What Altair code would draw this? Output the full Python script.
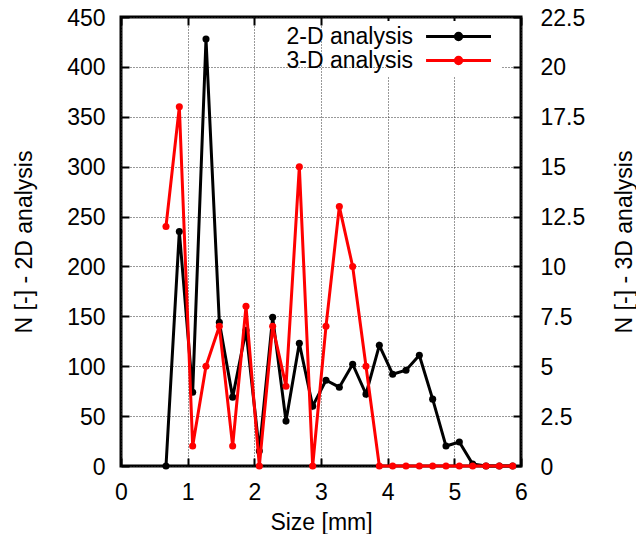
import altair as alt
import pandas as pd

# bin centres [mm]
sizes = [0.675, 0.875, 1.075, 1.275, 1.475, 1.675, 1.875, 2.075, 2.275, 2.475,
         2.675, 2.875, 3.075, 3.275, 3.475, 3.675, 3.875, 4.075, 4.275, 4.475,
         4.675, 4.875, 5.075, 5.275, 5.475, 5.675, 5.875]
# counts, 2-D analysis (left axis)
n2d = [0, 235, 74, 428, 144, 69, 136, 15, 149, 45, 123, 60, 86, 79, 102, 72,
       121, 92, 96, 111, 67, 20, 24, 2, 0, 0, 0]
# counts, 3-D analysis (right axis)
n3d = [12, 18, 1, 5, 7, 1, 8, 0, 7, 4, 15, 0, 7, 13, 10, 5, 0, 0, 0, 0, 0, 0,
       0, 0, 0, 0, 0]

series = ["2-D analysis", "3-D analysis"]
colors = ["#000000", "#ff0000"]
x_ticks = [0, 1, 2, 3, 4, 5, 6]
left_ticks = [0, 50, 100, 150, 200, 250, 300, 350, 400, 450]
right_ticks = [0, 2.5, 5, 7.5, 10, 12.5, 15, 17.5, 20, 22.5]

df2 = pd.DataFrame({"size": sizes, "n": n2d, "series": series[0]})
df3 = pd.DataFrame({"size": sizes, "n": n3d, "series": series[1]})

FONT = "Liberation Sans"
FS = 23

# legend key: a line sample with a dot, drawn to the right of the label
LEGEND_PATH = ("M3.07,0H11.19"
               "M6.73,0A0.4,0.4,0,1,1,7.53,0A0.4,0.4,0,1,1,6.73,0Z")

legend = alt.Legend(
    title=None, orient="none", legendX=265, legendY=4,
    symbolType=LEGEND_PATH, symbolSize=256, symbolStrokeWidth=3,
    labelAlign="right", labelOffset=0, labelFontSize=FS, labelFont=FONT,
    labelColor="black", rowPadding=0, padding=4, labelLimit=300,
    fillColor="white",
)
color = alt.Color("series:N", scale=alt.Scale(domain=series, range=colors),
                  legend=legend)

grid_kw = dict(gridDash=[1, 2], gridColor="#333333", gridWidth=1)
tick_kw = dict(domain=False, tickSize=8, tickWidth=2, tickColor="black",
               offset=-8, labelFontSize=FS, labelFont=FONT, labelColor="black",
               labelFlush=False,
               titleFontSize=FS, titleFont=FONT, titleFontWeight="normal",
               titleColor="black")

xscale = alt.Scale(domain=[0, 6], nice=False, zero=False)

line2 = alt.Chart(df2).mark_line(
    strokeWidth=3, point=alt.OverlayMarkDef(filled=True, size=50)
).encode(
    x=alt.X("size:Q", scale=xscale,
            axis=alt.Axis(values=x_ticks, title="Size [mm]", grid=True,
                          labelPadding=15, titlePadding=7, **grid_kw, **tick_kw)),
    y=alt.Y("n:Q", scale=alt.Scale(domain=[0, 450], nice=False),
            axis=alt.Axis(values=left_ticks, title="N [-] - 2D analysis",
                          grid=True, labelPadding=16, titlePadding=30,
                          labelOffset=1, **grid_kw, **tick_kw)),
    color=color,
)

line3 = alt.Chart(df3).mark_line(
    strokeWidth=3, point=alt.OverlayMarkDef(filled=True, size=50)
).encode(
    x=alt.X("size:Q", scale=xscale,
            axis=alt.Axis(values=x_ticks, orient="top", labels=False,
                          title=None, grid=False, **tick_kw)),
    y=alt.Y("n:Q", scale=alt.Scale(domain=[0, 22.5], nice=False),
            axis=alt.Axis(values=right_ticks, orient="right", format=".1~f",
                          title="N [-] - 3D analysis", titleAngle=270,
                          grid=False, labelPadding=19, titlePadding=52,
                          labelOffset=1, **tick_kw)),
    color=color,
)

chart = alt.layer(line2, line3).resolve_scale(
    y="independent"
).resolve_axis(
    x="independent", y="independent"
).properties(
    width=400, height=449,
    autosize=alt.AutoSizeParams(type="none"),
    padding={"left": 113, "top": 9, "right": 115, "bottom": 68},
).configure_view(
    stroke="black", strokeWidth=3
)

chart.save("out.html", embed_options={"renderer": "svg", "actions": False})
